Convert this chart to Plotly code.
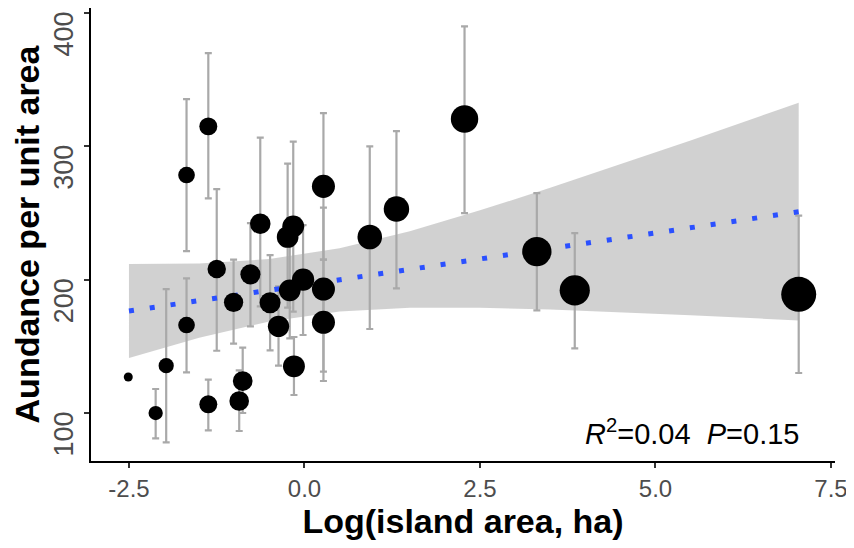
import plotly.graph_objects as go

# ---- data ----
log_area = [-2.51, -2.12, -1.97, -1.68, -1.68, -1.37, -1.37, -1.25, -1.01, -0.93,
            -0.88, -0.77, -0.63, -0.49, -0.37, -0.24, -0.16, -0.21, -0.02, -0.15,
            0.27, 0.27, 0.27, 0.93, 1.31, 2.28, 3.31, 3.85, 7.04]
abundance = [127, 100, 135.5, 166, 278.5, 106.5, 315, 208, 183, 109,
             124, 204, 242, 182.7, 165, 232, 240, 192, 200, 135,
             270, 193, 168, 232, 253, 320.5, 221, 192, 189]
err_low = [None, 81, 78, 130.5, 221.5, 87, 261, 146.7, 152, 86.5,
           100, 165, 180, 147, 135.5, 179, 176, 156, 158.5, 113.5,
           215, 131, 124, 163, 193.5, 250, 177, 148.5, 130]
err_high = [None, 118, 193, 201, 335.5, 125, 370, 268, 215, 132,
            149, 242.5, 306.5, 218.5, 195, 287, 303.5, 228, 241, 157,
            325, 254, 215, 300, 311.5, 390, 265, 235, 248]

fit_x = [-2.5, 7.04]
fit_y = [176.5, 251.0]

band_x = [-2.5, -1.5, -0.5, 0.5, 1.5, 2.5, 3.5, 4.5, 5.5, 6.5, 7.04]
band_low = [141.3, 156.5, 168.7, 176.2, 179.0, 179.0, 177.7, 175.7, 173.3, 170.8, 169.3]
band_high = [211.8, 212.1, 215.5, 223.6, 236.4, 252.0, 268.9, 286.5, 304.5, 322.8, 332.8]

x_ticks = [-2.5, 0.0, 2.5, 5.0, 7.5]
x_ticklabels = ["-2.5", "0.0", "2.5", "5.0", "7.5"]
y_ticks = [100, 200, 300, 400]
y_ticklabels = ["100", "200", "300", "400"]

stat_text = "<i>R</i><sup>2</sup>=0.04\u00a0\u00a0<i>P</i>=0.15"

# ---- derived styling ----
xmin, xmax = min(log_area), max(log_area)
sizes = [9 + 26 * ((v - xmin) / (xmax - xmin)) ** 0.5 for v in log_area]
plus = [None if h is None else h - y for h, y in zip(err_high, abundance)]
minus = [None if l is None else y - l for l, y in zip(err_low, abundance)]

FONT = "Arial, 'Liberation Sans', sans-serif"

fig = go.Figure()

# confidence band
fig.add_trace(go.Scatter(x=band_x, y=band_low, mode="lines", line=dict(width=0),
                         hoverinfo="skip", showlegend=False))
fig.add_trace(go.Scatter(x=band_x, y=band_high, mode="lines", line=dict(width=0),
                         fill="tonexty", fillcolor="rgba(153,153,153,0.45)",
                         hoverinfo="skip", showlegend=False))

# error bars
fig.add_trace(go.Scatter(
    x=log_area, y=abundance, mode="markers",
    marker=dict(size=1, color="rgba(0,0,0,0)", opacity=1),
    error_y=dict(type="data", symmetric=False, array=plus, arrayminus=minus,
                 color="#A9A9A9", thickness=2.2, width=3.5),
    showlegend=False, hoverinfo="skip"))

# regression line
fig.add_trace(go.Scatter(x=fit_x, y=fit_y, mode="lines",
                         line=dict(color="#2B50FF", width=5, dash="5px,16px"),
                         showlegend=False))

# points
fig.add_trace(go.Scatter(x=log_area, y=abundance, mode="markers",
                         marker=dict(size=sizes, color="black", opacity=1, line=dict(width=0)),
                         showlegend=False))

fig.add_annotation(x=5.52, y=85.5, xref="x", yref="y", text=stat_text, showarrow=False,
                   font=dict(family=FONT, size=29, color="black"))

fig.update_layout(
    width=854, height=548,
    margin=dict(l=83, r=27, t=0, b=95),
    paper_bgcolor="white", plot_bgcolor="white",
    font=dict(family=FONT),
    xaxis=dict(range=[-3.041, 7.557], tickvals=x_ticks, ticktext=x_ticklabels,
               automargin=False,
               showgrid=False, zeroline=False, showline=True, linecolor="black",
               linewidth=1.8, ticks="outside", ticklen=5, tickwidth=1.5, tickcolor="#333333",
               tickfont=dict(size=24, color="#4D4D4D"),
               title=dict(text="<b>Log(island area, ha)</b>", font=dict(size=34, color="black"),
                          standoff=3)),
    yaxis=dict(range=[64.0, 403.8], tickvals=y_ticks, ticktext=y_ticklabels,
               automargin=False,
               showgrid=False, zeroline=False, showline=True, linecolor="black",
               linewidth=1.8, ticks="outside", ticklen=5, tickwidth=1.5, tickcolor="#333333",
               tickangle=-90, ticklabelshift=25, ticklabeloverflow="allow",
               tickfont=dict(size=27, color="#4D4D4D"),
               title=dict(text="<b>Aundance per unit area</b>", font=dict(size=34, color="black"),
                          standoff=0)),
)

fig.write_html("out.html")
